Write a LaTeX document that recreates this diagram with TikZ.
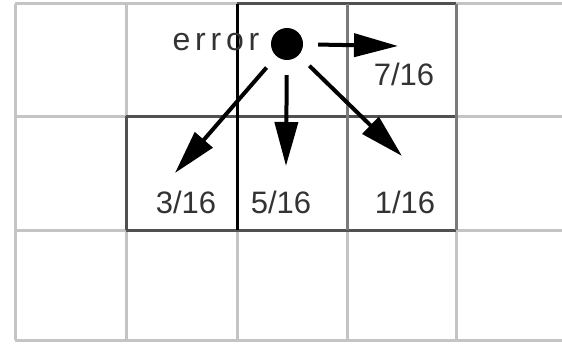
\documentclass[tikz,border=0pt]{standalone}
\usepackage{fontspec}
\setmainfont{Liberation Sans}
\usetikzlibrary{arrows.meta}
\definecolor{lightline}{HTML}{C4C4C4}
\definecolor{midline}{HTML}{7A7A7A}
\definecolor{darkline}{HTML}{505050}
\tikzset{
  gridlight/.style={draw=lightline, line width=3pt},
  gridmid/.style={draw=midline, line width=3pt},
  griddark/.style={draw=darkline, line width=3pt},
  weight/.style={font=\fontsize{31}{34}\selectfont, text=black!80, inner sep=0pt},
  errarrow/.style={line width=4pt, shorten <=15pt, -{Triangle[length=44pt,width=23pt]}},
}
\begin{document}
\begin{tikzpicture}[x=1pt,y=-1pt]
\useasboundingbox (0,0) rectangle (562,345);
\fill[white] (0,0) rectangle (562,345);
% light background grid
\draw[gridlight] (15,4) -- (562,4);
\draw[gridlight] (15,116) -- (562,116);
\draw[gridlight] (15,230) -- (562,230);
\draw[gridlight] (15,340) -- (562,340);
\foreach \x in {15,126,237,347,456} \draw[gridlight] (\x,4) -- (\x,340);
% neighbourhood lines
\draw[griddark] (237,4) -- (456,4);
\draw[griddark] (126,116) -- (456,116);
\draw[griddark] (126,230) -- (456,230);
\draw[griddark] (126,116) -- (126,230);
\draw[gridmid] (347,4) -- (347,230);
\draw[gridmid] (456,4) -- (456,230);
\draw[draw=black, line width=3pt] (237,4) -- (237,230);
% current pixel
\node[circle, fill=black, minimum size=32pt, inner sep=0pt] (px) at (287,44) {};
\node[font=\fontsize{32}{34}\selectfont\addfontfeature{LetterSpace=15}, text=black!80, inner sep=0pt, anchor=center] (err) at (216,42) {error};
% targets
\coordinate (tr) at (398,46);
\coordinate (tdl) at (175,173);
\coordinate (td) at (286,166);
\coordinate (tdr) at (402,156);
\draw[errarrow] (px) -- (tr);
\draw[errarrow] (px) -- (tdl);
\draw[errarrow] (px) -- (td);
\draw[errarrow] (px) -- (tdr);
% weights
\node[weight] (w7) at (404,74) {7/16};
\node[weight] (w3) at (186,202) {3/16};
\node[weight] (w5) at (281,202) {5/16};
\node[weight] (w1) at (405,202) {1/16};
\end{tikzpicture}
\end{document}
